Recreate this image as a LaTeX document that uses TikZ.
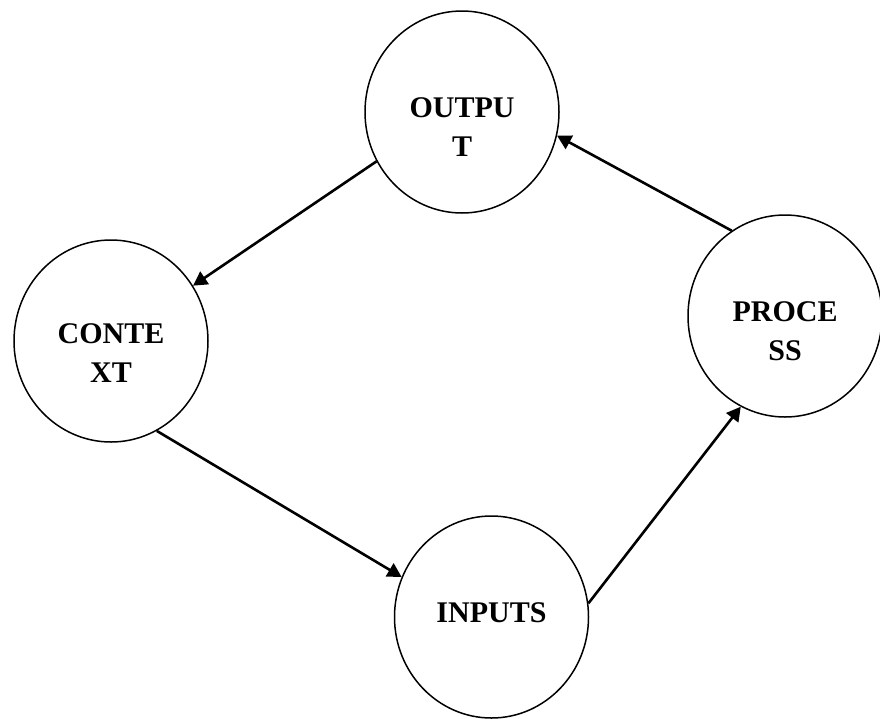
\documentclass[tikz,border=0pt]{standalone}
\usepackage{fontspec}
\setmainfont{Liberation Serif}
\usetikzlibrary{shapes.geometric,arrows.meta}
\begin{document}
\begin{tikzpicture}[x=1pt,y=-1pt,
  stage/.style={ellipse,draw,line width=1.5pt,minimum width=194pt,minimum height=202pt,inner sep=0pt},
  caption/.style={font=\fontsize{30}{39}\selectfont\bfseries,align=center,inner sep=0pt},
  flow/.style={line width=2.6pt,-{Triangle[length=14pt,width=15pt]}}]
\useasboundingbox[fill=white] (0,0) rectangle (880,718);

% the four stages of the cycle
\node[stage] (output)  at (462,112) {};
\node[stage] (context) at (111,341) {};
\node[stage] (inputs)  at (491.5,617) {};
\node[stage] (process) at (785,316) {};

% stage names, broken over two lines where they are long
\node[caption] (outputtxt)  at (462,127) {OUTPU\\T};
\node[caption] (contexttxt) at (111,353) {CONTE\\XT};
\node[caption] (inputstxt)  at (491.5,613) {INPUTS};
\node[caption] (processtxt) at (785,331) {PROCE\\SS};

% flow between the stages
\draw[flow] (output.210.6) -- (context.34.5);
\draw[flow] (context.297) -- (inputs.156.5);
\draw[flow] (inputs.8.8) -- (process.244);
\draw[flow] (process.122) -- (output.346.4);
\end{tikzpicture}
\end{document}
